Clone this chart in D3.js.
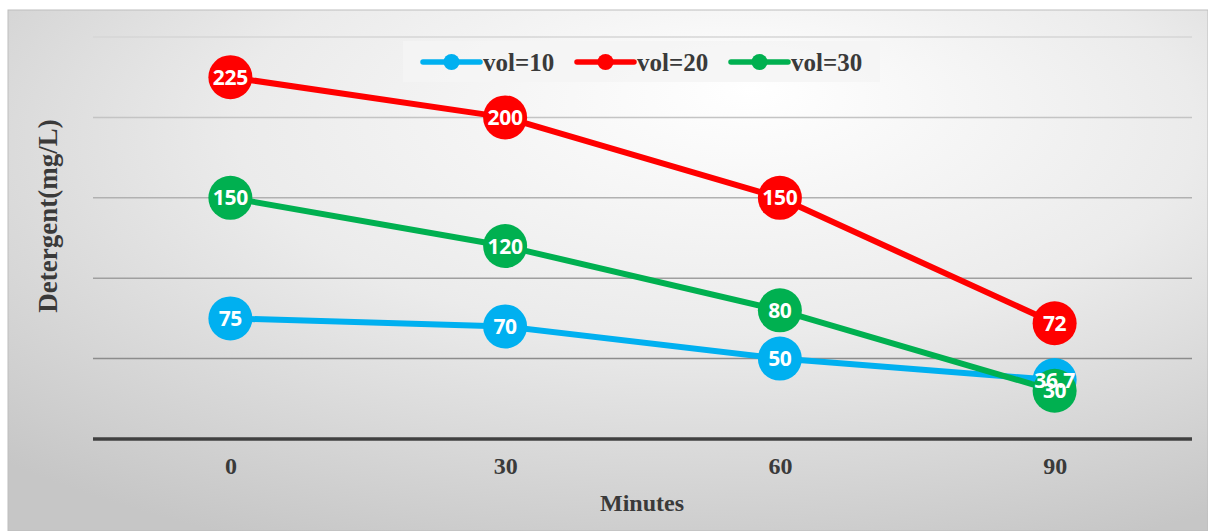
<!DOCTYPE html>
<html>
<head>
<meta charset="utf-8">
<script src="https://cdn.jsdelivr.net/npm/d3@7"></script>
<style>
  html, body { margin: 0; padding: 0; background: #ffffff; }
  svg { display: block; }
</style>
</head>
<body>
<svg id="chart" width="1208" height="531"></svg>
<script>
// Sampling times (minutes) and detergent concentration per volume
const minutes = ["0", "30", "60", "90"];
const vol10 = [75, 70, 50, 36.7];
const vol20 = [225, 200, 150, 72];
const vol30 = [150, 120, 80, 30];
const seriesNames = ["vol=10", "vol=20", "vol=30"];
const seriesColors = ["#00b0f0", "#ff0000", "#00b050"];
const yTicks = [0, 50, 100, 150, 200, 250];

const seriesValues = [vol10, vol20, vol30];
const series = seriesNames.map((name, i) => ({
  name,
  color: seriesColors[i],
  points: minutes.map((m, j) => ({ m, v: seriesValues[i][j] }))
}));

const svg = d3.select("#chart");
const W = 1208, H = 531;

// Chart area background with a soft radial shading
const defs = svg.append("defs");
const grad = defs.append("radialGradient")
  .attr("id", "bg")
  .attr("cx", "0.56").attr("cy", "0.3").attr("r", "0.8")
  .attr("fx", "0.62").attr("fy", "0.15");
grad.append("stop").attr("offset", "0").attr("stop-color", "#ffffff");
grad.append("stop").attr("offset", "0.5").attr("stop-color", "#ebebeb");
grad.append("stop").attr("offset", "1").attr("stop-color", "#c6c6c6");

svg.append("rect")
  .attr("x", 8).attr("y", 10).attr("width", W - 8).attr("height", H - 10)
  .attr("fill", "url(#bg)")
  .attr("stroke", "#bdbdbd").attr("stroke-width", 1);

const plot = { left: 93, right: 1192, top: 37, bottom: 439 };

const x = d3.scalePoint().domain(minutes).range([plot.left, plot.right]).padding(0.5);
const y = d3.scaleLinear().domain([0, 250]).range([plot.bottom, plot.top]);
const gridColor = d3.scaleLinear().domain([50, 250]).range(["#8c8c8c", "#d6d6d6"]);

// Horizontal gridlines
svg.append("g")
  .selectAll("line")
  .data(yTicks.filter(t => t > 0))
  .join("line")
  .attr("x1", plot.left).attr("x2", plot.right)
  .attr("y1", d => y(d)).attr("y2", d => y(d))
  .attr("stroke", d => gridColor(d))
  .attr("stroke-width", 1.5);

// Category axis
const xAxis = svg.append("g")
  .attr("transform", `translate(0,${y(0)})`)
  .call(d3.axisBottom(x).tickSize(0).tickPadding(18));
xAxis.select(".domain")
  .attr("d", `M${plot.left},0H${plot.right}`)
  .attr("stroke", "#404040").attr("stroke-width", 3.5);
xAxis.selectAll("text")
  .attr("font-family", "'Liberation Serif', 'Times New Roman', serif")
  .attr("font-weight", "bold").attr("font-size", 24)
  .attr("fill", "#3a3a3a");

// Axis titles
svg.append("text")
  .attr("x", 642).attr("y", 511)
  .attr("text-anchor", "middle")
  .attr("font-family", "'Liberation Serif', 'Times New Roman', serif")
  .attr("font-weight", "bold").attr("font-size", 24)
  .attr("fill", "#3a3a3a")
  .text("Minutes");

svg.append("text")
  .attr("transform", "translate(57,216) rotate(-90)")
  .attr("text-anchor", "middle")
  .attr("font-family", "'Liberation Serif', 'Times New Roman', serif")
  .attr("font-weight", "bold").attr("font-size", 27)
  .attr("fill", "#3a3a3a")
  .text("Detergent(mg/L)");

// Lines and markers
const line = d3.line().x(d => x(d.m)).y(d => y(d.v));
const sg = svg.append("g").selectAll("g").data(series).join("g");
sg.append("path")
  .attr("d", d => line(d.points))
  .attr("fill", "none")
  .attr("stroke", d => d.color)
  .attr("stroke-width", 6)
  .attr("stroke-linejoin", "round");
sg.selectAll("circle")
  .data(d => d.points.map(p => ({ ...p, color: d.color })))
  .join("circle")
  .attr("cx", d => x(d.m)).attr("cy", d => y(d.v))
  .attr("r", 22)
  .attr("fill", d => d.color);

// Value labels inside markers
svg.append("g").selectAll("g").data(series).join("g")
  .selectAll("text")
  .data(d => d.points)
  .join("text")
  .attr("x", d => x(d.m)).attr("y", d => y(d.v))
  .attr("dy", "0.36em")
  .attr("text-anchor", "middle")
  .attr("font-family", "'Open Sans', sans-serif")
  .attr("font-weight", "bold").attr("font-size", 21)
  .attr("letter-spacing", -0.3)
  .attr("fill", "#ffffff")
  .text(d => d.v);

// Legend
const legend = svg.append("g");
legend.append("rect")
  .attr("x", 403).attr("y", 41).attr("width", 477).attr("height", 41)
  .attr("fill", "#f4f4f4").attr("opacity", 0.85);
const legendX = [423, 577, 731];
const li = legend.selectAll("g").data(series).join("g")
  .attr("transform", (d, i) => `translate(${legendX[i]},62)`);
li.append("line")
  .attr("x1", 0).attr("x2", 57).attr("y1", 0).attr("y2", 0)
  .attr("stroke", d => d.color).attr("stroke-width", 5.5)
  .attr("stroke-linecap", "round");
li.append("circle")
  .attr("cx", 28.5).attr("cy", 0).attr("r", 8)
  .attr("fill", d => d.color);
li.append("text")
  .attr("x", 60).attr("y", 8.5)
  .attr("font-family", "'Liberation Serif', 'Times New Roman', serif")
  .attr("font-weight", "bold").attr("font-size", 25)
  .attr("fill", "#3a3a3a")
  .text(d => d.name);
</script>
</body>
</html>
